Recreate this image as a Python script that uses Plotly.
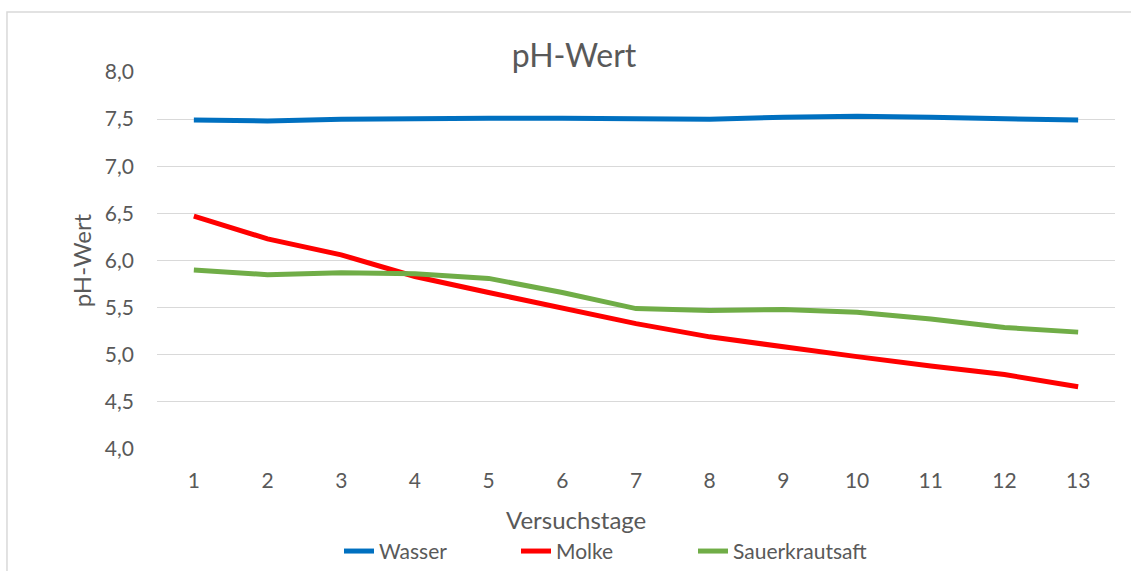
import plotly.graph_objects as go

days = list(range(1, 14))
tick_labels = [str(d) for d in days]
wasser = [7.49, 7.48, 7.50, 7.51, 7.51, 7.51, 7.51, 7.50, 7.52, 7.53, 7.52, 7.50, 7.49]
molke = [6.47, 6.23, 6.06, 5.83, 5.66, 5.50, 5.33, 5.19, 5.08, 4.98, 4.88, 4.79, 4.66]
sauerkrautsaft = [5.90, 5.85, 5.87, 5.86, 5.81, 5.66, 5.49, 5.47, 5.48, 5.45, 5.38, 5.29, 5.24]

FONT = "Lato"
GREY = "#595959"
W, H = 1131, 571
L, R, T, B = 157, 16, 72, 122.3

fig = go.Figure()
for name, vals, col in [("Wasser", wasser, "#0070C0"),
                        ("Molke", molke, "#FF0000"),
                        ("Sauerkrautsaft", sauerkrautsaft, "#70AD47")]:
    fig.add_trace(go.Scatter(x=days, y=vals, name=name, mode="lines",
                             line=dict(color=col, width=5)))

fig.update_layout(
    width=W, height=H,
    margin=dict(l=L, r=R, t=T, b=B, autoexpand=False),
    paper_bgcolor="white", plot_bgcolor="white",
    separators=",.",
    font=dict(family=FONT, color=GREY, size=21),
    title=dict(text="pH-Wert", x=0.5075, xanchor="center", y=0.902, yanchor="middle",
               font=dict(family=FONT, size=32, color=GREY)),
    xaxis=dict(range=[0.5, 13.5], tickvals=days, ticktext=tick_labels,
               showgrid=False, zeroline=False, showline=False, ticks="",
               automargin=False, ticklabelstandoff=17,
               tickfont=dict(family=FONT, size=21, color=GREY)),
    yaxis=dict(range=[4, 8], dtick=0.5, tickformat=".1f",
               showgrid=True, gridcolor="#D9D9D9", gridwidth=1.3,
               zeroline=False, showline=False, ticks="",
               automargin=False, ticklabelstandoff=22,
               tickfont=dict(family=FONT, size=21, color=GREY),
               title=dict(text="pH-Wert", standoff=6,
                          font=dict(family=FONT, size=24, color=GREY))),
    legend=dict(orientation="h", x=(339 - L) / (W - L - R), xanchor="left",
                y=-0.2716, yanchor="middle",
                font=dict(family=FONT, size=21, color=GREY),
                itemwidth=30, entrywidth=132, tracegroupgap=0),
    showlegend=True,
    annotations=[dict(text="Versuchstage", xref="paper", yref="paper",
                      x=(576 - L) / (W - L - R), y=(H - B - 519) / (H - T - B),
                      xanchor="center", yanchor="middle", showarrow=False,
                      font=dict(family=FONT, size=24, color=GREY))],
    shapes=[dict(type="rect", xref="paper", yref="paper",
                 x0=-0.1566, y0=-1, x1=2, y1=1.159,
                 line=dict(color="#D9D9D9", width=1.5), fillcolor="rgba(0,0,0,0)",
                 layer="below")],
)

fig.write_html("out.html", config={"displayModeBar": False},
               post_script="document.body.style.margin='0';document.body.style.overflow='hidden';")
